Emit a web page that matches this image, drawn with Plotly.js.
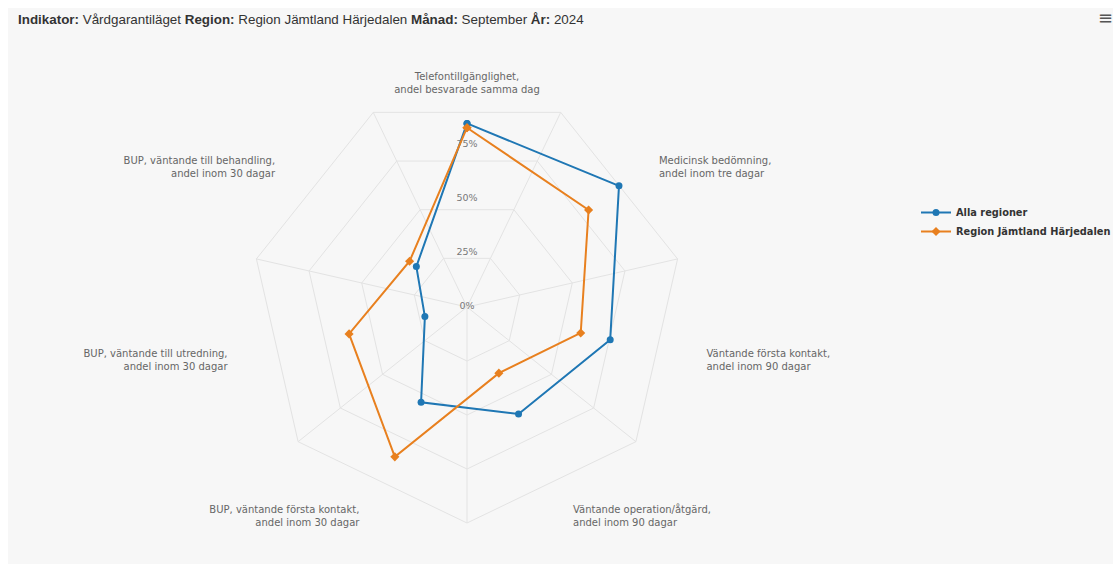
<!DOCTYPE html>
<html>
<head>
<meta charset="utf-8">
<script src="https://cdn.plot.ly/plotly-3.0.1.min.js"></script>
<style>
  html, body { margin: 0; padding: 0; background: #ffffff; overflow: hidden; }
  #chart { width: 1113px; height: 564px; }
</style>
</head>
<body>
<div id="chart"></div>
<script>
// ---- Data ----
const categories = [
  "Telefontillgänglighet,<br>andel besvarade samma dag",
  "Medicinsk bedömning,<br>andel inom tre dagar",
  "Väntande första kontakt,<br>andel inom 90 dagar",
  "Väntande operation/åtgärd,<br>andel inom 90 dagar",
  "BUP, väntande första kontakt,<br>andel inom 30 dagar",
  "BUP, väntande till utredning,<br>andel inom 30 dagar",
  "BUP, väntande till behandling,<br>andel inom 30 dagar"
];
const allaRegioner = [85, 90, 68, 55, 49, 20, 30];
const jamtlandHarjedalen = [83, 72, 54, 34, 77, 56, 34];
const seriesNames = ["Alla regioner", "Region Jämtland Härjedalen"];
const radialTicks = [0, 25, 50, 75];
const radialTickLabels = ["0%", "25%", "50%", "75%"];
const gridSlots = ["s1", "s2", "s3", "s4", "s5", "s6", "s7"];
const titleText = "<b>Indikator:</b> Vårdgarantiläget <b>Region:</b> Region Jämtland Härjedalen <b>Månad:</b> September <b>År:</b> 2024";

function closed(arr) { return arr.concat([arr[0]]); }

// ---- Layout helpers ----
const W = 1113, H = 564;
const CX = 467, CY = 307, R = 216;
function dom(rad) {
  return { x: [(CX - rad) / W, (CX + rad) / W], y: [1 - (CY + rad) / H, 1 - (CY - rad) / H] };
}

const gridColor = "#e3e3e3";
const labelFont = { family: "DejaVu Sans", size: 10, color: "#666666" };

// per-axis label placement tweaks (rotation offset in degrees, label distance, radius shrink)
const labelPlacement = [
  { rot: 0, len: 0, shrink: 6 },
  { rot: 3.5, len: 16, shrink: 0 },
  { rot: -1.2, len: 26, shrink: 0 },
  { rot: -2.6, len: 5, shrink: 0 },
  { rot: 3.0, len: 5.5, shrink: 0 },
  { rot: 1.2, len: 26, shrink: 0 },
  { rot: -3.5, len: 16, shrink: 0 }
];

function labelPolar(i) {
  const p = labelPlacement[i];
  return {
    domain: dom(R - p.shrink),
    bgcolor: "rgba(0,0,0,0)",
    angularaxis: {
      type: "category", rotation: 90 - p.rot, direction: "clockwise",
      categoryorder: "array", categoryarray: categories,
      tickmode: "array", tickvals: [categories[i]],
      showgrid: false, showline: false,
      ticks: "outside", ticklen: p.len, tickcolor: "rgba(0,0,0,0)",
      tickfont: labelFont
    },
    radialaxis: { range: [0, 100], visible: false }
  };
}

const traces = [
  // invisible trace that defines the offset grid spokes
  {
    type: "scatterpolar", subplot: "polar",
    theta: gridSlots, r: gridSlots.map(() => 0),
    mode: "markers", marker: { opacity: 0 },
    hoverinfo: "skip", showlegend: false
  }
];
categories.forEach((c, i) => {
  traces.push({
    type: "scatterpolar", subplot: "polar" + (i + 3),
    theta: categories, r: categories.map(() => 0),
    mode: "markers", marker: { opacity: 0 },
    hoverinfo: "skip", showlegend: false
  });
});
traces.push(
  // radial tick labels along the first category axis
  {
    type: "scatterpolar", subplot: "polar2",
    theta: radialTicks.map(() => categories[0]), r: radialTicks,
    text: radialTickLabels, mode: "text",
    textfont: { family: "DejaVu Sans", size: 9.5, color: "#777" },
    hoverinfo: "skip", showlegend: false, cliponaxis: false
  },
  {
    type: "scatterpolar", subplot: "polar2",
    name: seriesNames[0],
    theta: closed(categories), r: closed(allaRegioner),
    mode: "lines+markers",
    line: { color: "#1f77b4", width: 2 },
    marker: { color: "#1f77b4", size: 7, symbol: "circle" },
    cliponaxis: false
  },
  {
    type: "scatterpolar", subplot: "polar2",
    name: seriesNames[1],
    theta: closed(categories), r: closed(jamtlandHarjedalen),
    mode: "lines+markers",
    line: { color: "#e8801f", width: 2 },
    marker: { color: "#e8801f", size: 7, symbol: "diamond" },
    cliponaxis: false
  }
);

const layout = {
  width: W, height: H, autosize: false,
  margin: { l: 0, r: 0, t: 0, b: 0, autoexpand: false },
  paper_bgcolor: "#f7f7f7",
  plot_bgcolor: "#f7f7f7",
  title: {
    text: titleText,
    x: 18 / W, xanchor: "left", xref: "paper",
    y: 1 - 19 / H, yanchor: "middle", yref: "container",
    font: { family: "Liberation Sans, Arial, sans-serif", size: 13.4, color: "#333333" }
  },
  showlegend: true,
  legend: {
    x: 916 / W, xanchor: "left", y: 1 - 222 / H, yanchor: "middle",
    bgcolor: "rgba(0,0,0,0)",
    font: { family: "DejaVu Sans", size: 9.8, color: "#333333", weight: "bold" }
  },
  polar: {
    domain: dom(R),
    bgcolor: "rgba(0,0,0,0)",
    gridshape: "linear",
    angularaxis: {
      type: "category", rotation: 90 - 360 / 14, direction: "clockwise",
      showticklabels: false, ticks: "",
      showgrid: true, gridcolor: gridColor, gridwidth: 1,
      showline: true, linecolor: gridColor, linewidth: 1
    },
    radialaxis: {
      range: [0, 100], tickvals: [25, 50, 75],
      showticklabels: false, ticks: "", showline: false,
      showgrid: true, gridcolor: gridColor, gridwidth: 1
    }
  },
  polar2: {
    domain: dom(R),
    bgcolor: "rgba(0,0,0,0)",
    angularaxis: {
      type: "category", rotation: 90, direction: "clockwise",
      categoryorder: "array", categoryarray: categories,
      showticklabels: false, ticks: "", showgrid: false, showline: false
    },
    radialaxis: { range: [0, 100], visible: false }
  },
  shapes: [
    { type: "rect", xref: "paper", yref: "paper", x0: 0, x1: 1, y0: 1 - 8 / H, y1: 1,
      fillcolor: "#ffffff", line: { width: 0 }, layer: "below" },
    { type: "rect", xref: "paper", yref: "paper", x0: 0, x1: 8 / W, y0: 0, y1: 1,
      fillcolor: "#ffffff", line: { width: 0 }, layer: "below" }
  ],
  annotations: [
    { text: "≡", xref: "paper", yref: "paper", x: 1105 / W, y: 1 - 18 / H,
      xanchor: "center", yanchor: "middle", showarrow: false,
      font: { family: "DejaVu Sans", size: 18, color: "#555555" } }
  ]
};
categories.forEach((c, i) => { layout["polar" + (i + 3)] = labelPolar(i); });

Plotly.newPlot("chart", traces, layout, { displayModeBar: false, responsive: false });
</script>
</body>
</html>
